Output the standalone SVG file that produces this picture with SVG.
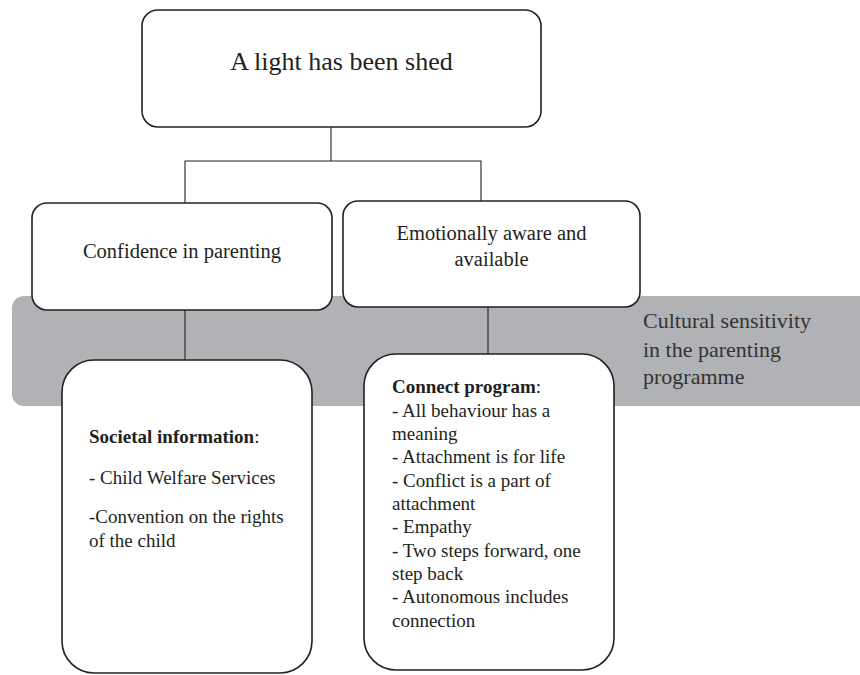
<svg xmlns="http://www.w3.org/2000/svg" width="860" height="675" viewBox="0 0 860 675">
<style>
.box{fill:#fff;stroke:#231f20;stroke-width:1.6}
.band{fill:#b1b2b5}
.conn{fill:none;stroke:#231f20;stroke-width:1.1}
text{font-family:"Liberation Serif","Times New Roman",serif;fill:#231f20}
.title{font-size:26px}
.mid{font-size:20.5px}
.side{font-size:22px;fill:#333}
.list{font-size:19px}
.b{font-weight:bold}
</style>
<rect width="860" height="675" fill="#fff"/>
<g id="cultural-sensitivity">
<rect class="band" x="12" y="296" width="860" height="110" rx="12"/>
<text class="side" x="643" y="328">Cultural sensitivity</text>
<text class="side" x="643" y="357">in the parenting</text>
<text class="side" x="643" y="384">programme</text>
</g>
<g id="connectors">
<polyline class="conn" points="331,127 331,161"/>
<polyline class="conn" points="185,203 185,161 481,161 481,201"/>
<line class="conn" x1="185" y1="310" x2="185" y2="360"/>
<line class="conn" x1="488" y1="307" x2="488" y2="354"/>
</g>
<g id="top">
<rect class="box" x="142" y="10" width="399" height="117" rx="16"/>
<text class="title" x="341.5" y="70" text-anchor="middle">A light has been shed</text>
</g>
<g id="confidence">
<rect class="box" x="32" y="203" width="300" height="107" rx="15"/>
<text class="mid" x="182" y="258" text-anchor="middle">Confidence in parenting</text>
</g>
<g id="emotional">
<rect class="box" x="343" y="201" width="297" height="106" rx="15"/>
<text class="mid" x="491.5" y="240" text-anchor="middle">Emotionally aware and</text>
<text class="mid" x="491.5" y="266" text-anchor="middle">available</text>
</g>
<g id="societal">
<rect class="box" x="62" y="360" width="250" height="313" rx="32"/>
<text class="list" x="89" y="443"><tspan class="b">Societal information</tspan>:</text>
<text class="list" x="89" y="484">- Child Welfare Services</text>
<text class="list" x="89" y="523">-Convention on the rights</text>
<text class="list" x="89" y="547">of the child</text>
</g>
<g id="connect">
<rect class="box" x="364" y="354" width="250" height="316" rx="32"/>
<text class="list" x="392" y="393"><tspan class="b">Connect program</tspan>:</text>
<text class="list" x="392" y="416.5">- All behaviour has a</text>
<text class="list" x="392" y="440">meaning</text>
<text class="list" x="392" y="463">- Attachment is for life</text>
<text class="list" x="392" y="486.5">- Conflict is a part of</text>
<text class="list" x="392" y="510">attachment</text>
<text class="list" x="392" y="533">- Empathy</text>
<text class="list" x="392" y="556.5">- Two steps forward, one</text>
<text class="list" x="392" y="580">step back</text>
<text class="list" x="392" y="603">- Autonomous includes</text>
<text class="list" x="392" y="626.5">connection</text>
</g>
</svg>
